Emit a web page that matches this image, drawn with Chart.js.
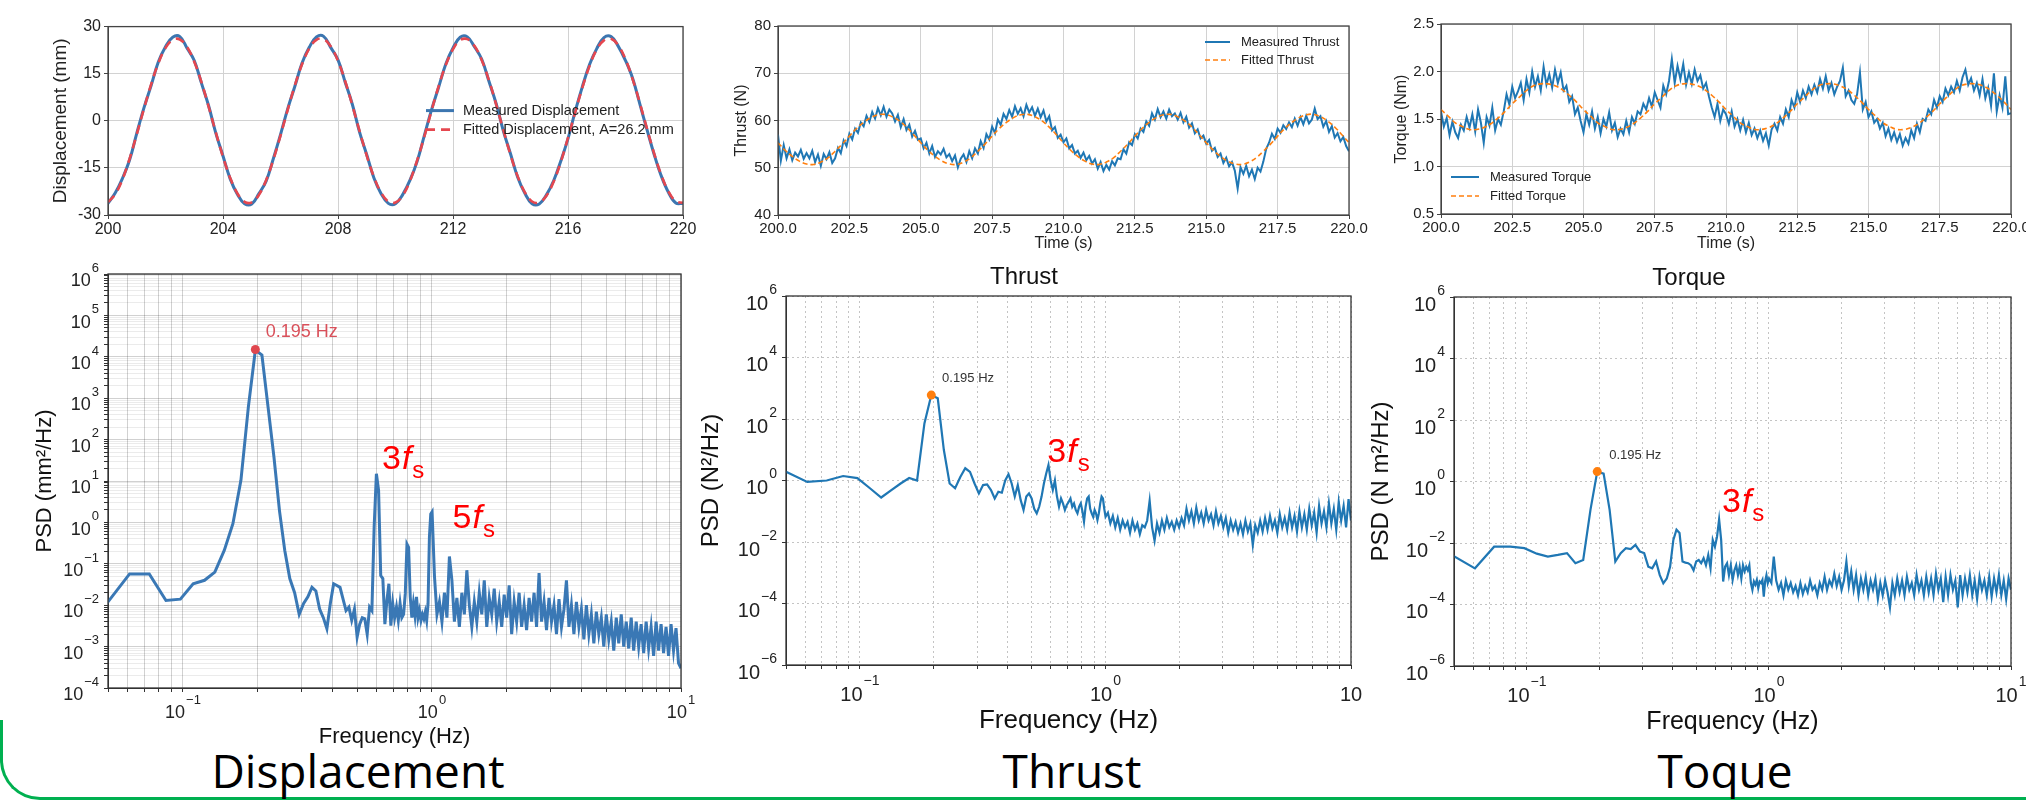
<!DOCTYPE html>
<html>
<head>
<meta charset="utf-8">
<script src="https://cdn.jsdelivr.net/npm/chart.js@4.4.1/dist/chart.umd.min.js"></script>
<style>
html, body { margin: 0; padding: 0; background: #fff; overflow: hidden; }
#page { position: relative; width: 2026px; height: 802px; overflow: hidden; background: #fff; }
.cap { position: absolute; top: 747px; font-family: 'Open Sans', 'Noto Sans', sans-serif; font-size: 46px; line-height: 1; color: #000; transform: translateX(-50%); white-space: nowrap; }
#frame { position: absolute; left: 0; top: 720px; width: 2080px; height: 77px; border-left: 3px solid #00b050; border-bottom: 3px solid #00b050; border-bottom-left-radius: 40px; }
</style>
</head>
<body>
<div id="page">
  <div id="frame"></div>
  <div class="cap" style="left:358px">Displacement</div>
  <div class="cap" style="left:1072px">Thrust</div>
  <div class="cap" style="left:1725px">Toque</div>
</div>
<script>
// ---- data ----
// time series (s); measured thrust/torque every 0.1 s, fitted + displacement every 0.25 s
const dispMeasured = [
  -26.3,-23.0,-18.4,-12.5,-4.0,4.1,11.2,18.7,23.6,26.6,
  26.8,23.1,19.2,12.0,4.8,-3.9,-11.2,-18.5,-23.4,-26.4,
  -26.5,-23.2,-19.2,-12.1,-4.4,3.8,11.0,18.4,23.4,26.7,
  26.9,23.3,19.4,12.3,5.2,-3.6,-10.8,-18.2,-23.2,-26.3,
  -26.4,-23.5,-19.0,-13.0,-4.8,3.4,10.7,18.1,23.2,26.6,
  26.7,23.5,19.6,12.6,5.5,-3.2,-10.5,-18.0,-23.1,-26.4,
  -26.5,-23.6,-19.1,-12.8,-5.7,3.0,10.9,17.9,23.0,26.5,
  26.8,23.7,19.2,13.5,5.3,-2.9,-10.8,-17.7,-22.9,-26.2,
  -26.3];
const dispFitted = [
  -25.9,-23.4,-18.7,-12.1,-4.3,3.8,11.6,18.3,23.2,25.8,
  25.9,23.5,18.8,12.3,4.5,-3.7,-11.5,-18.2,-23.1,-25.8,
  -26.0,-23.6,-18.9,-12.4,-4.7,3.5,11.3,18.0,23.0,25.8,
  26.0,23.7,19.1,12.6,4.9,-3.3,-11.1,-17.9,-22.9,-25.7,
  -26.0,-23.8,-19.2,-12.7,-5.1,3.1,11.0,17.8,22.8,25.7,
  26.0,23.8,19.3,12.9,5.2,-2.9,-10.8,-17.7,-22.8,-25.7,
  -26.0,-23.9,-19.4,-13.1,-5.4,2.7,10.6,17.5,22.7,25.6,
  26.1,24.0,19.6,13.2,5.6,-2.6,-10.5,-17.4,-22.6,-25.6,
  -26.1];

const thrustMeasured = [
  57.0,51.5,54.8,52.0,53.9,51.6,53.2,52.4,53.8,51.9,
  53.1,52.0,53.6,51.2,52.8,50.4,52.9,51.8,53.3,51.0,
  52.0,54.2,53.1,55.8,54.6,57.2,56.0,58.3,57.4,59.6,
  58.8,61.0,59.7,61.8,60.4,62.6,61.1,62.9,60.8,62.3,
  61.5,59.8,61.2,58.6,60.3,58.0,59.1,56.6,57.8,55.9,
  56.2,54.1,55.3,53.0,54.6,52.3,53.5,52.8,54.0,52.2,
  52.9,51.4,52.6,50.1,51.9,52.8,51.2,53.5,52.0,54.1,
  53.0,55.6,54.2,57.1,56.0,58.7,57.3,60.2,59.1,61.4,
  60.3,62.2,60.8,63.0,61.4,62.6,60.9,63.3,61.7,62.8,
  61.0,62.5,60.7,62.1,59.8,60.9,57.9,58.6,56.3,57.0,
  55.4,56.2,54.1,54.8,53.0,53.6,52.1,53.2,51.6,52.5,
  50.9,51.8,49.8,51.2,49.3,50.6,49.6,51.4,50.5,52.0,
  51.8,53.9,53.0,55.4,54.8,57.1,56.2,58.3,57.6,59.8,
  58.9,61.5,60.2,62.4,60.7,61.9,60.4,62.3,60.9,61.5,
  60.2,61.6,59.6,60.8,58.5,59.4,57.3,58.1,56.2,56.8,
  55.1,55.9,53.6,54.2,52.3,53.0,51.0,52.1,50.3,51.2,
  49.4,45.6,50.1,48.7,50.4,48.2,49.6,47.6,50.0,49.2,
  51.3,54.0,55.3,57.2,56.1,58.3,57.4,59.0,58.2,59.6,
  58.6,60.4,58.9,60.7,59.2,61.0,59.4,60.2,62.5,60.3,
  60.9,58.7,59.9,57.6,58.8,56.4,57.3,55.6,56.5,54.6,
  53.5];
const thrustFitted = [
  55.3,53.7,52.4,51.4,50.8,50.7,51.2,52.1,53.5,55.0,56.7,58.3,59.6,60.6,61.2,61.3,60.8,59.9,58.6,57.0,
  55.3,53.7,52.4,51.4,50.8,50.7,51.2,52.1,53.5,55.0,56.7,58.3,59.6,60.6,61.2,61.3,60.8,59.9,58.6,57.0,
  55.3,53.7,52.4,51.4,50.8,50.7,51.2,52.1,53.5,55.0,56.7,58.3,59.6,60.6,61.2,61.3,60.8,59.9,58.6,57.0,
  55.3,53.7,52.4,51.4,50.8,50.7,51.2,52.1,53.5,55.0,56.7,58.3,59.6,60.6,61.2,61.3,60.8,59.9,58.6,57.0,
  55.3];

const torqueMeasured = [
  1.58,1.42,1.51,1.33,1.47,1.36,1.30,1.44,1.38,1.52,
  1.41,1.55,1.37,1.60,1.46,1.25,1.52,1.43,1.62,1.38,
  1.50,1.44,1.58,1.76,1.65,1.84,1.72,1.79,1.88,1.70,
  1.92,1.78,2.00,1.84,1.95,1.80,2.05,1.86,1.97,1.83,
  2.02,1.88,1.99,1.80,1.85,1.68,1.74,1.55,1.62,1.48,
  1.36,1.55,1.44,1.58,1.40,1.52,1.35,1.50,1.42,1.57,
  1.38,1.46,1.31,1.40,1.34,1.48,1.36,1.52,1.45,1.58,
  1.55,1.66,1.60,1.72,1.63,1.78,1.70,1.62,1.85,1.76,
  1.90,2.13,1.88,2.06,1.92,2.08,1.86,1.99,1.87,2.02,
  1.90,1.96,1.82,1.88,1.74,1.62,1.52,1.66,1.48,1.60,
  1.55,1.45,1.58,1.42,1.50,1.38,1.49,1.36,1.46,1.33,
  1.40,1.30,1.38,1.27,1.35,1.22,1.39,1.45,1.38,1.52,
  1.45,1.60,1.52,1.70,1.62,1.78,1.68,1.80,1.72,1.84,
  1.76,1.86,1.78,1.92,1.82,1.95,1.80,1.88,1.76,1.84,
  1.90,2.04,1.74,1.80,1.70,1.66,1.76,1.99,1.60,1.68,
  1.52,1.58,1.46,1.50,1.40,1.46,1.32,1.40,1.28,1.36,
  1.26,1.34,1.22,1.30,1.24,1.38,1.30,1.45,1.36,1.50,
  1.48,1.60,1.55,1.70,1.62,1.74,1.68,1.82,1.75,1.84,
  1.78,1.90,1.80,1.94,2.02,1.86,1.93,1.80,1.88,1.75,
  1.92,1.72,1.83,1.64,1.98,1.58,1.75,1.62,1.95,1.55,
  1.56];
const torqueFitted = [
  1.60,1.53,1.46,1.42,1.39,1.39,1.41,1.45,1.51,1.58,1.66,1.73,1.80,1.85,1.87,1.87,1.85,1.81,1.75,1.68,
  1.60,1.53,1.46,1.42,1.39,1.39,1.41,1.45,1.51,1.58,1.66,1.73,1.80,1.85,1.87,1.87,1.85,1.81,1.75,1.68,
  1.60,1.53,1.46,1.42,1.39,1.39,1.41,1.45,1.51,1.58,1.66,1.73,1.80,1.85,1.87,1.87,1.85,1.81,1.75,1.68,
  1.60,1.53,1.46,1.42,1.39,1.39,1.41,1.45,1.51,1.58,1.66,1.73,1.80,1.85,1.87,1.87,1.85,1.81,1.75,1.68,
  1.60];

// PSD: low part on the FFT bins (4..82 x df), high part on a log grid 1..10 Hz
const psdDispLow = [
  0.01,0.057,0.057,0.013,0.014,0.033,0.04,0.063,0.21,0.93,
  10.4,616,14500,11000,600,38,1.9,0.21,0.044,0.02,
  0.006,0.011,0.016,0.027,0.022,0.008,0.005,0.0027,0.011,0.033,
  0.03,0.027,0.014,0.0074,0.009,0.0043,0.008,0.0017,0.0035,0.005,
  0.0047,0.002,0.009,0.0074,0.8,15,5.9,0.052,0.044,0.0035,
  0.013,0.033,0.0032,0.011,0.005,0.009,0.0043,0.011,0.005,0.006,
  0.019,0.3,0.25,0.016,0.005,0.011,0.0056,0.016,0.005,0.0074,
  0.0043,0.006,0.0047,0.0068,0.0043,0.011,0.44,1.6,1.8];
const psdDispHigh = [
  0.05,0.006,0.012,0.004,0.02,0.005,0.15,0.04,0.004,0.015,
  0.003,0.02,0.006,0.07,0.01,0.003,0.012,0.004,0.02,0.006,
  0.04,0.003,0.015,0.006,0.025,0.004,0.012,0.003,0.018,0.005,
  0.03,0.002,0.012,0.004,0.02,0.003,0.01,0.0025,0.015,0.004,
  0.02,0.003,0.06,0.004,0.012,0.0025,0.015,0.004,0.01,0.002,
  0.014,0.003,0.008,0.04,0.003,0.01,0.002,0.012,0.003,0.008,
  0.0015,0.01,0.002,0.006,0.0012,0.007,0.002,0.005,0.001,0.006,
  0.0015,0.004,0.0008,0.005,0.0012,0.006,0.001,0.004,0.0009,0.005,
  0.0008,0.004,0.001,0.0035,0.0007,0.004,0.0009,0.003,0.0006,0.004,
  0.0008,0.0035,0.0007,0.003,0.0006,0.0035,0.0008,0.0028,0.0004,0.0003];

const psdThrustLow = [
  2.1,0.9,1.0,1.4,1.2,0.56,0.28,0.49,0.8,1.2,
  1.0,72,600,470,9.8,0.8,0.56,1.3,2.5,1.9,
  0.8,0.38,0.71,0.75,0.49,0.26,0.43,0.4,1.0,1.6,
  0.8,0.3,0.7,0.23,0.11,0.3,0.38,0.26,0.12,0.085,
  0.14,0.3,0.8,1.7,3.2,1.0,0.49,1.0,0.3,0.14,
  0.26,0.18,0.11,0.16,0.2,0.26,0.14,0.18,0.11,0.085,
  0.14,0.18,0.1,0.046,0.14,0.26,0.3,0.12,0.085,0.066,
  0.11,0.085,0.052,0.085,0.18,0.3,0.26,0.12,0.066];
const psdThrustHigh = [
  0.09,0.04,0.07,0.03,0.06,0.025,0.05,0.03,0.045,0.02,
  0.05,0.025,0.04,0.018,0.035,0.03,0.05,0.22,0.03,0.011,
  0.04,0.02,0.05,0.025,0.06,0.03,0.045,0.025,0.05,0.03,
  0.06,0.035,0.12,0.05,0.1,0.04,0.13,0.05,0.09,0.04,
  0.11,0.05,0.08,0.035,0.1,0.04,0.07,0.03,0.06,0.02,
  0.05,0.025,0.045,0.02,0.04,0.018,0.05,0.022,0.04,0.008,
  0.035,0.02,0.05,0.022,0.06,0.025,0.07,0.028,0.05,0.02,
  0.08,0.03,0.06,0.025,0.09,0.03,0.07,0.022,0.1,0.03,
  0.08,0.025,0.12,0.035,0.09,0.02,0.15,0.04,0.1,0.03,
  0.18,0.04,0.12,0.025,0.2,0.05,0.15,0.03,0.25,0.05];

const psdTorqueLow = [
  0.0041,0.0015,0.0076,0.0076,0.0068,0.0045,0.0036,0.0041,0.0047,0.0022,
  0.0028,0.12,2.1,1.8,0.12,0.0025,0.0047,0.0068,0.0063,0.0087,
  0.0053,0.0047,0.0017,0.0015,0.0025,0.0009,0.00049,0.0007,0.0017,0.0126,
  0.027,0.021,0.0025,0.0023,0.0022,0.0019,0.0013,0.0025,0.0028,0.0022,
  0.0032,0.0019,0.0041,0.0015,0.0126,0.0076,0.016,0.059,0.0126,0.00056,
  0.0017,0.0022,0.0009,0.0019,0.00063,0.0013,0.0019,0.0009,0.0017,0.0007,
  0.0019,0.0012,0.0017,0.0013,0.0019,0.0005,0.0003,0.00056,0.00044,0.00063,
  0.00034,0.00056,0.0005,0.00063,0.00018,0.00056,0.0009,0.0005,0.0007];
const psdTorqueHigh = [
  0.0005,0.0036,0.0006,0.0003,0.0005,0.0002,0.0006,0.0003,0.0005,0.00025,
  0.0004,0.0002,0.0005,0.00022,0.0004,0.00025,0.0006,0.0003,0.0004,0.0002,
  0.0005,0.0003,0.0008,0.0003,0.0006,0.0004,0.001,0.0004,0.0008,0.0003,
  0.0006,0.0025,0.0004,0.0012,0.0003,0.0009,0.0002,0.0007,0.0003,0.0008,
  0.0002,0.0006,0.0003,0.0007,0.00015,0.0005,0.0002,0.0006,0.00025,0.00008,
  0.0005,0.0002,0.0007,0.00025,0.0006,0.0002,0.0008,0.0003,0.0005,0.0002,
  0.0009,0.0003,0.0006,0.0002,0.0008,0.00025,0.0007,0.0002,0.001,0.0003,
  0.0007,0.00012,0.0008,0.0002,0.0009,0.0003,0.0006,0.00008,0.0009,0.0002,
  0.0007,0.00025,0.0009,0.0002,0.0006,0.00015,0.0008,0.0003,0.0006,0.0002,
  0.0008,0.00018,0.0007,0.00025,0.0009,0.0002,0.0006,0.00015,0.0007,0.0003];

const peakFreq = 0.1953;
const peakDisp = 15000, peakThrust = 600, peakTorque = 2.1;

// sampling grids
const tFine = Array.from({length: 201}, (_, k) => 200 + k * 0.1);
const tCoarse = Array.from({length: 81}, (_, k) => 200 + k * 0.25);
const df = 0.012207;
const freqLow = Array.from({length: 79}, (_, k) => (k + 4) * df);
const freqHigh = Array.from({length: 100}, (_, i) => Math.pow(10, (i + 1) / 100));
const freq = freqLow.concat(freqHigh);

const FONT = "'Liberation Sans', Arial, Helvetica, sans-serif";
Chart.defaults.font.family = FONT;
Chart.defaults.color = '#222';

function pts(xs, ys) { return ys.map((y, i) => ({x: xs[i], y: y})); }

function isDecade(v) {
  const l = Math.log10(v);
  return Math.abs(l - Math.round(l)) < 1e-6;
}

function logTicks(lo, hi, eLo, eHi, minor) {
  const out = [];
  for (let e = eLo; e <= eHi; e++) {
    for (let m = 1; m <= (minor ? 9 : 1); m++) {
      const v = parseFloat((m * Math.pow(10, e)).toPrecision(6));
      if (v >= lo * 0.9999 && v <= hi * 1.0001) out.push({value: v});
    }
  }
  return out;
}

// canvas placed so the plot area lands on the given rectangle
function makeCanvas(area, yw, xh, pt, pr) {
  const c = document.createElement('canvas');
  const w = Math.round(area.x1 - area.x0 + yw + pr);
  const h = Math.round(area.y1 - area.y0 + pt + xh);
  c.width = w; c.height = h;
  c.style.cssText = 'position:absolute;left:' + (area.x0 - yw) + 'px;top:' + (area.y0 - pt) + 'px;width:' + w + 'px;height:' + h + 'px;';
  document.getElementById('page').appendChild(c);
  return c;
}

function powLabel(ctx, exp, x, yBase, size, align) {
  const supSize = Math.round(size * 0.7);
  const e = exp === null ? '' : (exp < 0 ? '\u2212' + (-exp) : String(exp));
  ctx.font = size + 'px ' + FONT;
  const w1 = ctx.measureText('10').width;
  ctx.font = supSize + 'px ' + FONT;
  const w2 = e ? ctx.measureText(e).width + 1 : 0;
  const x0 = align === 'right' ? x - w1 - w2 : x - (w1 + w2) / 2;
  ctx.textAlign = 'left';
  ctx.textBaseline = 'alphabetic';
  ctx.fillStyle = '#222';
  ctx.font = size + 'px ' + FONT;
  ctx.fillText('10', x0, yBase);
  if (e) {
    ctx.font = supSize + 'px ' + FONT;
    ctx.fillText(e, x0 + w1 + 1, yBase - size * 0.8);
  }
}

function makeOverlay(spec) {
  return {
    id: 'overlay',
    afterDraw(chart) {
      const ctx = chart.ctx, a = chart.chartArea;
      const sx = chart.scales.x, sy = chart.scales.y;
      ctx.save();
      ctx.setLineDash([]);
      ctx.strokeStyle = spec.frame;
      ctx.lineWidth = 1.3;
      ctx.strokeRect(a.left, a.top, a.right - a.left, a.bottom - a.top);

      if (spec.logX) {
        spec.logX.exps.forEach((e, i) => {
          const v = Math.pow(10, e);
          powLabel(ctx, spec.logX.show[i] ? e : null, sx.getPixelForValue(v), a.bottom + spec.logX.offset, spec.logX.size, 'center');
        });
      }
      if (spec.logY) {
        spec.logY.exps.forEach(e => {
          const py = sy.getPixelForValue(Math.pow(10, e));
          powLabel(ctx, e, a.left - spec.logY.gap, py + spec.logY.size * 0.68, spec.logY.size, 'right');
        });
      }
      if (spec.legend) {
        const lg = spec.legend;
        lg.items.forEach((di, i) => {
          const ds = chart.data.datasets[di];
          const y = a.top + lg.y + i * lg.gap;
          ctx.strokeStyle = ds.borderColor;
          ctx.lineWidth = ds.borderWidth;
          ctx.setLineDash(ds.borderDash || []);
          ctx.beginPath();
          ctx.moveTo(a.left + lg.x, y);
          ctx.lineTo(a.left + lg.x + lg.len, y);
          ctx.stroke();
          ctx.setLineDash([]);
          ctx.font = lg.font;
          ctx.fillStyle = '#222';
          ctx.textAlign = 'left';
          ctx.textBaseline = 'middle';
          ctx.fillText(ds.label, a.left + lg.x + lg.len + lg.pad, y);
        });
      }
      (spec.notes || []).forEach(n => {
        let x = sx.getPixelForValue(n.x);
        const y = sy.getPixelForValue(n.y);
        ctx.fillStyle = n.color;
        ctx.textAlign = 'left';
        ctx.textBaseline = n.baseline || 'alphabetic';
        n.parts.forEach(p => {
          ctx.font = p.font;
          ctx.fillText(p.t, x, y + (p.dy || 0));
          x += ctx.measureText(p.t).width + (p.gap || 0);
        });
      });
      ctx.restore();
    }
  };
}

function harmonic(n, x, y) {
  return {x: x, y: y, color: '#ff0000', parts: [
    {t: n, font: '34px ' + FONT, gap: 1},
    {t: 'f', font: 'italic 34px ' + FONT, gap: 1},
    {t: 's', font: '24px ' + FONT, dy: 9}
  ]};
}

// ---------- top row: time histories ----------
function timeChart(area, yw, xh, pt, pr, cfg) {
  const canvas = makeCanvas(area, yw, xh, pt, pr);
  return new Chart(canvas, {
    type: 'line',
    data: {datasets: cfg.datasets},
    options: {
      responsive: false, animation: false, events: [],
      layout: {padding: {top: pt, right: pr, left: 0, bottom: 0}},
      plugins: {legend: {display: false}, tooltip: {enabled: false}},
      elements: {point: {radius: 0}},
      scales: {
        x: {
          type: 'linear', min: 200, max: 220,
          ticks: {stepSize: cfg.xStep, autoSkip: false, maxRotation: 0, padding: 1,
                  font: {size: cfg.tickSize}, color: '#222',
                  callback: v => cfg.xDec ? v.toFixed(1) : String(v)},
          grid: {color: '#d2d2d2', lineWidth: 1, tickLength: 4, tickColor: '#444'},
          border: {color: '#444'},
          title: {display: !!cfg.xTitle, text: cfg.xTitle || '', font: {size: 16}, color: '#222', padding: 0},
          afterFit: s => { s.height = xh; }
        },
        y: {
          type: 'linear', min: cfg.yMin, max: cfg.yMax,
          ticks: {stepSize: cfg.yStep, autoSkip: false, padding: 3,
                  font: {size: cfg.tickSize}, color: '#222',
                  callback: v => cfg.yDec ? v.toFixed(1) : String(v)},
          grid: {color: '#d2d2d2', lineWidth: 1, tickLength: 4, tickColor: '#444'},
          border: {color: '#444'},
          title: {display: true, text: cfg.yTitle, font: {size: cfg.yTitleSize}, color: '#222', padding: 0},
          afterFit: s => { s.width = yw; }
        }
      }
    },
    plugins: [makeOverlay({frame: '#444', legend: cfg.legend})]
  });
}

timeChart({x0: 108, x1: 683, y0: 26, y1: 215}, 59, 36, 12, 25, {
  datasets: [
    {label: 'Measured Displacement', data: pts(tCoarse, dispMeasured), borderColor: '#3c76b0', borderWidth: 3, tension: 0.4, order: 1},
    {label: 'Fitted Displacement, A=26.2 mm', data: pts(tCoarse, dispFitted), borderColor: '#e5474f', borderWidth: 2.6, borderDash: [9, 6], tension: 0.4, order: 0}
  ],
  xStep: 4, yMin: -30, yMax: 30, yStep: 15, tickSize: 16,
  yTitle: 'Displacement (mm)', yTitleSize: 19,
  legend: {x: 318, y: 84, gap: 19, len: 28, pad: 9, font: '14.5px ' + FONT, items: [0, 1]}
});

timeChart({x0: 778, x1: 1349, y0: 26, y1: 215}, 46, 38, 12, 30, {
  datasets: [
    {label: 'Measured Thrust', data: pts(tFine, thrustMeasured), borderColor: '#1f77b4', borderWidth: 2, tension: 0, order: 1},
    {label: 'Fitted Thrust', data: pts(tCoarse, thrustFitted), borderColor: '#ff7f0e', borderWidth: 1.6, borderDash: [5, 3], tension: 0.4, order: 0}
  ],
  xStep: 2.5, xDec: true, yMin: 40, yMax: 80, yStep: 10, tickSize: 15,
  xTitle: 'Time (s)', yTitle: 'Thrust (N)', yTitleSize: 16,
  legend: {x: 427, y: 16, gap: 18, len: 25, pad: 11, font: '13px ' + FONT, items: [0, 1]}
});

timeChart({x0: 1441, x1: 2011, y0: 24, y1: 214}, 49, 39, 12, 30, {
  datasets: [
    {label: 'Measured Torque', data: pts(tFine, torqueMeasured), borderColor: '#1f77b4', borderWidth: 2, tension: 0, order: 1},
    {label: 'Fitted Torque', data: pts(tCoarse, torqueFitted), borderColor: '#ff7f0e', borderWidth: 1.6, borderDash: [5, 3], tension: 0.4, order: 0}
  ],
  xStep: 2.5, xDec: true, yMin: 0.5, yMax: 2.5, yStep: 0.5, yDec: true, tickSize: 15,
  xTitle: 'Time (s)', yTitle: 'Torque (Nm)', yTitleSize: 16,
  legend: {x: 10, y: 153, gap: 19, len: 28, pad: 11, font: '13px ' + FONT, items: [0, 1]}
});

// ---------- bottom row: PSDs ----------
function psdChart(area, yw, xh, pt, pr, cfg) {
  const canvas = makeCanvas(area, yw, xh, pt, pr);
  const titleH = cfg.title ? 36.8 : 0;
  return new Chart(canvas, {
    type: 'line',
    data: {datasets: [
      {label: 'PSD', data: pts(freq, cfg.psd), borderColor: cfg.color, borderWidth: cfg.lw, tension: 0, pointRadius: 0, order: 1},
      {label: 'peak', data: [{x: peakFreq, y: cfg.peak}], showLine: false, pointRadius: 4.5, pointBorderWidth: 0,
       pointBackgroundColor: cfg.dot, order: 0}
    ]},
    options: {
      responsive: false, animation: false, events: [],
      layout: {padding: {top: pt - titleH, right: pr, left: 0, bottom: 0}},
      plugins: {
        legend: {display: false}, tooltip: {enabled: false},
        title: {display: !!cfg.title, text: cfg.title || '', color: '#111',
                font: {size: 24, weight: 'normal'}, padding: {top: 4, bottom: 4}}
      },
      scales: {
        x: {
          type: 'logarithmic', min: 0.05, max: 10,
          afterBuildTicks: s => { s.ticks = logTicks(0.05, 10, -2, 1, true); },
          ticks: {display: false, autoSkip: false},
          grid: {color: c => (cfg.minorY || isDecade(c.tick.value)) ? cfg.gridMajor : cfg.gridMinor,
                 lineWidth: 1, tickLength: 4, tickColor: '#333'},
          border: {color: '#333', dash: cfg.dash},
          title: {display: true, text: 'Frequency (Hz)', font: {size: cfg.xTitleSize}, color: '#111', padding: 0},
          afterFit: s => { s.height = xh; }
        },
        y: {
          type: 'logarithmic', min: cfg.yMin, max: cfg.yMax,
          afterBuildTicks: s => {
            s.ticks = cfg.minorY
              ? logTicks(cfg.yMin, cfg.yMax, cfg.yExps[0], cfg.yExps[cfg.yExps.length - 1], true)
              : cfg.yExps.map(e => ({value: Math.pow(10, e)}));
          },
          ticks: {display: false, autoSkip: false},
          grid: {color: c => isDecade(c.tick.value) ? cfg.gridMajor : cfg.gridMinor,
                 lineWidth: 1, tickLength: 4, tickColor: '#333'},
          border: {color: '#333', dash: cfg.dash},
          title: {display: true, text: cfg.yTitle, font: {size: cfg.yTitleSize}, color: '#111', padding: 0},
          afterFit: s => { s.width = yw; }
        }
      }
    },
    plugins: [makeOverlay({
      frame: '#333',
      logX: {exps: [-1, 0, 1], show: cfg.showX, offset: cfg.xLabOff, size: cfg.labSize},
      logY: {exps: cfg.yExps, gap: 9, size: cfg.labSize},
      notes: cfg.notes
    })]
  });
}

psdChart({x0: 108, x1: 681, y0: 274, y1: 688}, 76, 62, 20, 25, {
  psd: psdDispLow.concat(psdDispHigh), peak: peakDisp, color: '#3a78b5', lw: 3, dot: '#e0474f',
  yMin: 1e-4, yMax: 1e6, yExps: [-4, -3, -2, -1, 0, 1, 2, 3, 4, 5, 6], minorY: true,
  gridMajor: 'rgba(0,0,0,0.18)', gridMinor: 'rgba(0,0,0,0.08)', dash: [],
  yTitle: 'PSD (mm\u00b2/Hz)', yTitleSize: 22, xTitleSize: 22,
  showX: [true, true, true], xLabOff: 30, labSize: 18,
  notes: [
    {x: 0.215, y: 40000, color: '#d9505a', baseline: 'middle', parts: [{t: '0.195 Hz', font: '18px ' + FONT}]},
    harmonic('3', 0.63, 20),
    harmonic('5', 1.21, 0.74)
  ]
});

psdChart({x0: 786, x1: 1351, y0: 296, y1: 665}, 89, 71, 37, 30, {
  title: 'Thrust',
  psd: psdThrustLow.concat(psdThrustHigh), peak: peakThrust, color: '#1f77b4', lw: 2.2, dot: '#ff7f0e',
  yMin: 1e-6, yMax: 1e6, yExps: [-6, -4, -2, 0, 2, 4, 6], minorY: false,
  gridMajor: '#c4c4c4', gridMinor: '#c4c4c4', dash: [2, 3],
  yTitle: 'PSD (N\u00b2/Hz)', yTitleSize: 24, xTitleSize: 26,
  showX: [true, true, false], xLabOff: 36, labSize: 20,
  notes: [
    {x: 0.216, y: 2150, color: '#333', baseline: 'middle', parts: [{t: '0.195 Hz', font: '13px ' + FONT}]},
    harmonic('3', 0.58, 4.0)
  ]
});

psdChart({x0: 1454, x1: 2011, y0: 297, y1: 666}, 87, 71, 37, 30, {
  title: 'Torque',
  psd: psdTorqueLow.concat(psdTorqueHigh), peak: peakTorque, color: '#1f77b4', lw: 2.2, dot: '#ff7f0e',
  yMin: 1e-6, yMax: 1e6, yExps: [-6, -4, -2, 0, 2, 4, 6], minorY: false,
  gridMajor: '#c4c4c4', gridMinor: '#c4c4c4', dash: [2, 3],
  yTitle: 'PSD (N m\u00b2/Hz)', yTitleSize: 24, xTitleSize: 25,
  showX: [true, true, true], xLabOff: 36, labSize: 20,
  notes: [
    {x: 0.219, y: 6.8, color: '#333', baseline: 'middle', parts: [{t: '0.195 Hz', font: '13px ' + FONT}]},
    harmonic('3', 0.64, 0.1)
  ]
});
</script>
</body>
</html>
